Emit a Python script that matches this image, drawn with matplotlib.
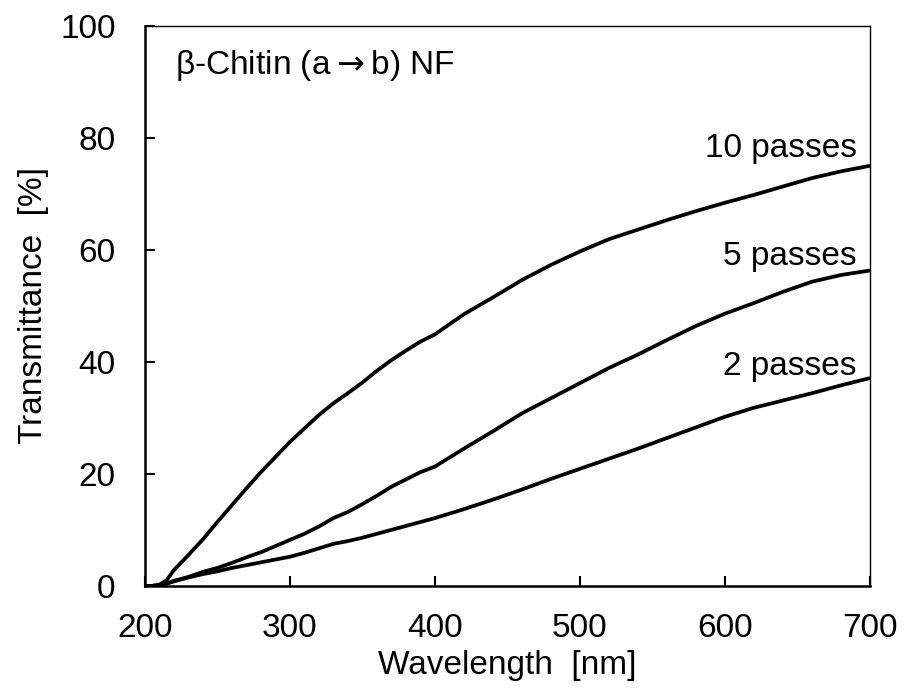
import numpy as np
import matplotlib
matplotlib.use('Agg')
import matplotlib.pyplot as plt

plt.rcParams['font.family'] = ['Liberation Sans', 'DejaVu Sans']
plt.rcParams['font.size'] = 24
plt.rcParams['xtick.direction'] = 'in'
plt.rcParams['ytick.direction'] = 'in'

wavelength = [200, 205, 210, 215, 220, 230, 240, 250, 260, 270, 280, 290, 300,
              310, 320, 330, 340, 350, 360, 370, 380, 390, 400, 420, 440, 460,
              480, 500, 520, 540, 560, 580, 600, 620, 640, 660, 680, 700]

passes_10 = [0, 0, 0.2, 1.0, 2.8, 5.5, 8.3, 11.4, 14.4, 17.4, 20.3, 23.0, 25.7,
             28.1, 30.5, 32.6, 34.4, 36.3, 38.4, 40.3, 42.0, 43.6, 44.9, 48.5,
             51.5, 54.6, 57.3, 59.7, 61.9, 63.6, 65.3, 66.9, 68.4, 69.8, 71.3,
             72.8, 74.0, 75.0]

passes_5 = [0, 0, 0.1, 0.4, 0.9, 1.6, 2.5, 3.2, 4.1, 5.1, 6.0, 7.1, 8.2,
            9.3, 10.6, 12.1, 13.2, 14.6, 16.1, 17.7, 19.0, 20.3, 21.3, 24.5,
            27.6, 30.8, 33.5, 36.2, 38.9, 41.3, 43.9, 46.4, 48.6, 50.5, 52.5,
            54.3, 55.5, 56.3]

passes_2 = [0, 0, 0.1, 0.4, 0.8, 1.5, 2.1, 2.6, 3.2, 3.7, 4.2, 4.7, 5.2,
            5.9, 6.7, 7.5, 8.0, 8.6, 9.3, 10.0, 10.7, 11.4, 12.1, 13.7,
            15.4, 17.2, 19.1, 20.9, 22.7, 24.5, 26.4, 28.3, 30.2, 31.8, 33.1,
            34.4, 35.8, 37.1]

series = [(passes_10, '10 passes', 76.5),
          (passes_5, '5 passes', 57.3),
          (passes_2, '2 passes', 37.7)]

fig = plt.figure(figsize=(9.11, 6.95), dpi=100)
ax = fig.add_axes([0.159, 0.157, 0.796, 0.806])

for values, label, ytext in series:
    ax.plot(wavelength, values, color='black', lw=2.7, solid_capstyle='butt')
    ax.text(691, ytext, label, ha='right', va='baseline')

ax.text(220.7, 91.4, r'β-Chitin (a$\rightarrow$b) NF', ha='left', va='baseline')

ax.set_xlim(200, 700)
ax.set_ylim(0, 100)
ax.set_xticks(range(200, 701, 100))
ax.set_yticks(range(0, 101, 20))
ax.tick_params(length=7, width=1.5, labelsize=24, top=False, right=False)
ax.tick_params(axis='x', pad=19.5)
ax.tick_params(axis='y', pad=21)
ax.spines['left'].set_linewidth(1.8)
ax.spines['bottom'].set_linewidth(1.8)
ax.spines['top'].set_linewidth(1.0)
ax.spines['right'].set_linewidth(1.0)
ax.set_xlabel('Wavelength  [nm]', labelpad=4)
ax.set_ylabel('Transmittance  [%]', labelpad=8)

fig.savefig('out.png', dpi=100)
